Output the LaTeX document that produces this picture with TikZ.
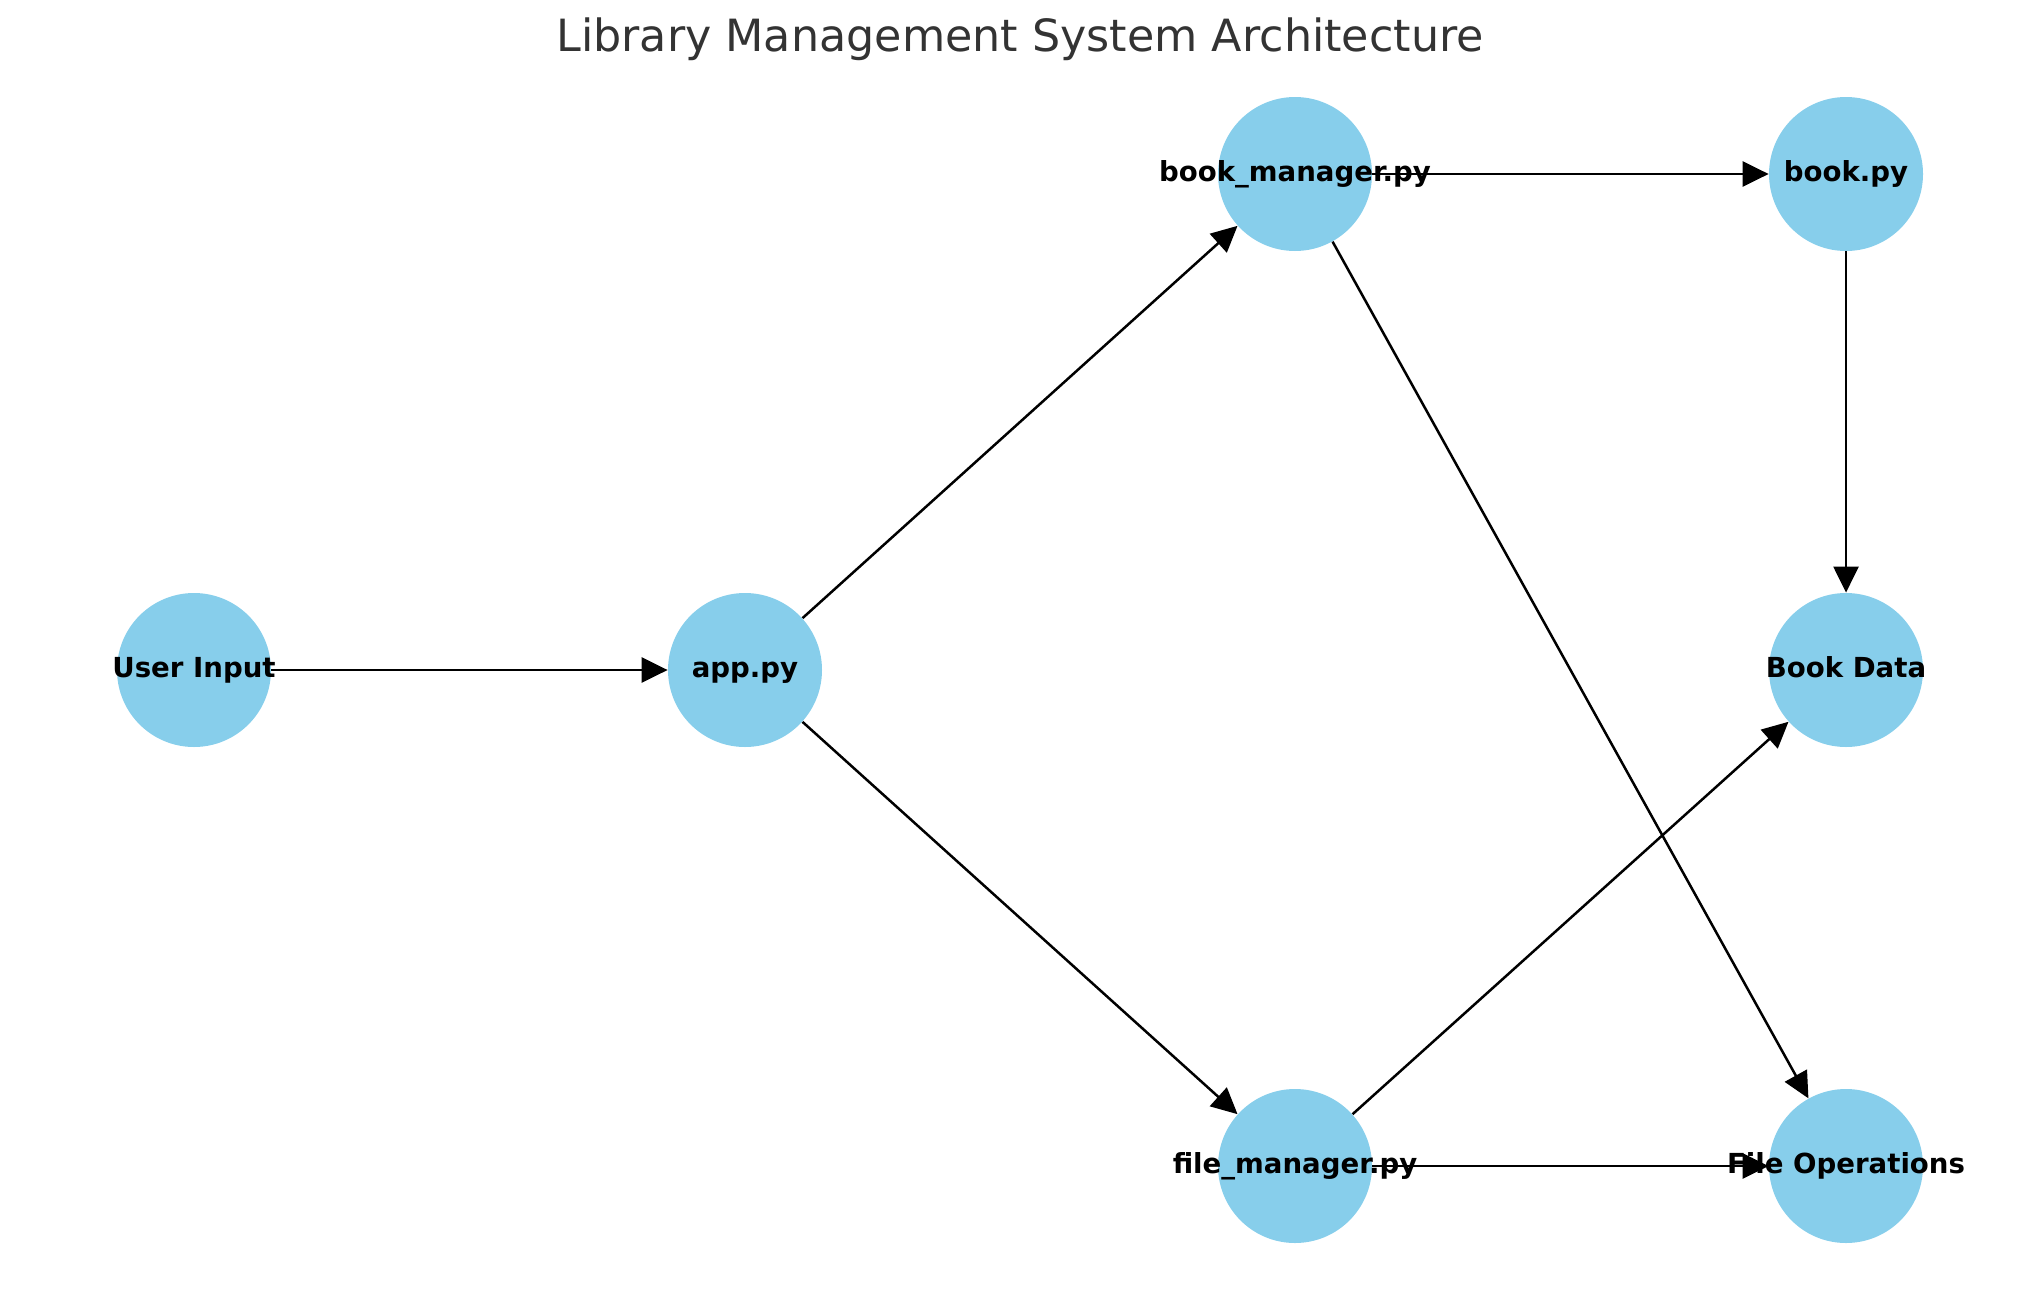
\documentclass[tikz,border=0pt]{standalone}
\usepackage{fontspec}
\setmainfont{DejaVu Sans}
\usetikzlibrary{arrows.meta}

\definecolor{skyblue}{HTML}{87CEEB}
\definecolor{titlegray}{HTML}{333333}

\tikzset{
    module/.style={circle, fill=skyblue, minimum size=77pt, inner sep=0pt},
    modname/.style={inner sep=0pt, text height=0.7em, text depth=0em,
        font=\bfseries\fontsize{13.8}{16}\selectfont},
    link/.style={-{Triangle[length=13pt,width=12.5pt]}, line width=1.25pt, black}
}

\begin{document}
\begin{tikzpicture}[x=0.5pt,y=-0.5pt]

    \useasboundingbox (0,0) rectangle (2039,1290);

    % Title
    \node[text=titlegray, font=\fontsize{22.2}{26}\selectfont] (title) at (1020,39) {Library Management System Architecture};

    % Modules
    \node[module] (input) at (194,670) {};
    \node[module] (app) at (745,670) {};
    \node[module] (bookmgr) at (1295,174) {};
    \node[module] (book) at (1846,174) {};
    \node[module] (bookdata) at (1846,670) {};
    \node[module] (filemgr) at (1295,1166) {};
    \node[module] (fileops) at (1846,1166) {};

    % Dependencies
    \draw[link] (input) -- (app);
    \draw[link] (app) -- (bookmgr);
    \draw[link] (app) -- (filemgr);
    \draw[link] (bookmgr) -- (book);
    \draw[link] (bookmgr) -- (fileops);
    \draw[link] (book) -- (bookdata);
    \draw[link] (filemgr) -- (bookdata);
    \draw[link] (filemgr) -- (fileops);

    % Names
    \node[modname] (input-name) at (input) {User Input};
    \node[modname] (app-name) at (app) {app.py};
    \node[modname] (bookmgr-name) at (bookmgr) {book\_manager.py};
    \node[modname] (book-name) at (book) {book.py};
    \node[modname] (bookdata-name) at (bookdata) {Book Data};
    \node[modname] (filemgr-name) at (filemgr) {file\_manager.py};
    \node[modname] (fileops-name) at (fileops) {File Operations};

\end{tikzpicture}
\end{document}
